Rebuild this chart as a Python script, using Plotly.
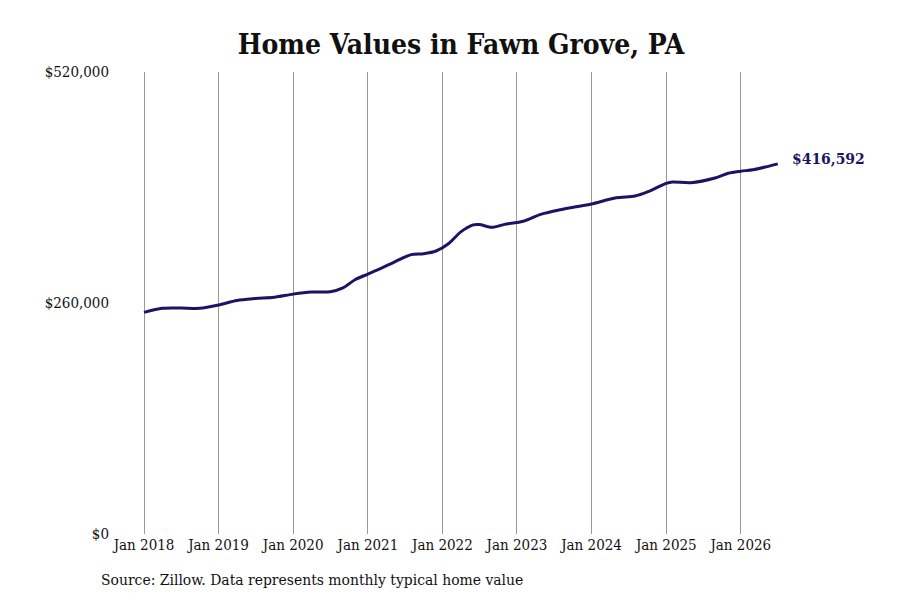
"""Home values line chart for Fawn Grove, PA."""

import pandas as pd
import plotly.graph_objects as go

dates = [
    "2018-01-01", "2018-04-01", "2018-07-01", "2018-10-01",
    "2019-01-01", "2019-04-01", "2019-07-01", "2019-10-01",
    "2020-01-01", "2020-04-01", "2020-07-01", "2020-09-01", "2020-11-01",
    "2021-01-01", "2021-03-01", "2021-05-01", "2021-08-01", "2021-10-01", "2021-12-01",
    "2022-02-01", "2022-04-01", "2022-06-01", "2022-07-01", "2022-09-01", "2022-11-01",
    "2023-01-01", "2023-02-01", "2023-05-01", "2023-08-01", "2023-11-01",
    "2024-01-01", "2024-05-01", "2024-08-01", "2024-10-01",
    "2025-01-01", "2025-02-01", "2025-05-01", "2025-09-01", "2025-11-01",
    "2026-01-01", "2026-03-01", "2026-05-01", "2026-07-01",
]
values = [
    249500, 254000, 254300, 254000,
    257700, 262800, 265000, 266500,
    270000, 272300, 272700, 277000, 286500,
    292500, 298500, 305000, 314500, 315500, 318500,
    327000, 340000, 348000, 348300, 345200, 348500,
    350500, 352000, 360000, 365000, 369000,
    371500, 378500, 380400, 385000,
    394700, 396200, 395400, 401000, 406000,
    408300, 410000, 413000, 416592,
]
tick_dates = [f"{y}-01-01" for y in range(2018, 2027)]
tick_text = [f"Jan {y}" for y in range(2018, 2027)]
y_ticks = [0, 260000, 520000]
y_text = ["$0", "$260,000", "$520,000"]

FONT = "DejaVu Serif Condensed, DejaVu Serif, serif"
NAVY = "#1b1464"

# the page body adds an 8px margin, so the figure sits at (8, 8)
# plot area: x 102..872, y 64..526 in figure coordinates
px_per_day = 74.6 / 365.25
start = pd.Timestamp("2018-01-01")
x_lo = start - pd.Timedelta(days=34 / px_per_day)
x_hi = start + pd.Timedelta(days=(872 - 136) / px_per_day)

fig = go.Figure()
fig.add_trace(go.Scatter(
    x=dates, y=values,
    mode="lines",
    line=dict(color=NAVY, width=3, shape="spline", smoothing=0.8),
    hoverinfo="skip",
    showlegend=False,
))

fig.add_annotation(
    x=dates[-1], y=values[-1],
    text=f"<b>${values[-1]:,}</b>",
    showarrow=False, xanchor="left", yanchor="middle",
    xshift=12, yshift=5,
    font=dict(family=FONT, size=15.5, color=NAVY),
)

fig.add_annotation(
    xref="paper", yref="paper",
    x=(91 - 102) / 770, y=-0.075,
    xanchor="left", yanchor="top",
    text="Source: Zillow. Data represents monthly typical home value",
    showarrow=False,
    font=dict(family=FONT, size=15.5, color="#111111"),
)

fig.update_layout(
    width=900, height=600,
    paper_bgcolor="white", plot_bgcolor="white",
    margin=dict(l=102, r=28, t=64, b=74),
    title=dict(
        text="<b>Home Values in Fawn Grove, PA</b>",
        x=453 / 900, xanchor="center", y=1 - 36 / 600, yanchor="middle",
        font=dict(family=FONT, size=28, color="#111111"),
    ),
    font=dict(family=FONT, size=14, color="#111111"),
    xaxis=dict(
        range=[x_lo, x_hi],
        tickvals=tick_dates, ticktext=tick_text,
        showgrid=True, gridcolor="#999999", gridwidth=1,
        zeroline=False, showline=False, ticks="",
        tickfont=dict(family=FONT, size=15),
    ),
    yaxis=dict(
        range=[0, 520000],
        tickvals=y_ticks, ticktext=y_text,
        showgrid=False, zeroline=False, showline=False, ticks="",
        tickfont=dict(family=FONT, size=15),
    ),
)

fig.write_html("out.html")
